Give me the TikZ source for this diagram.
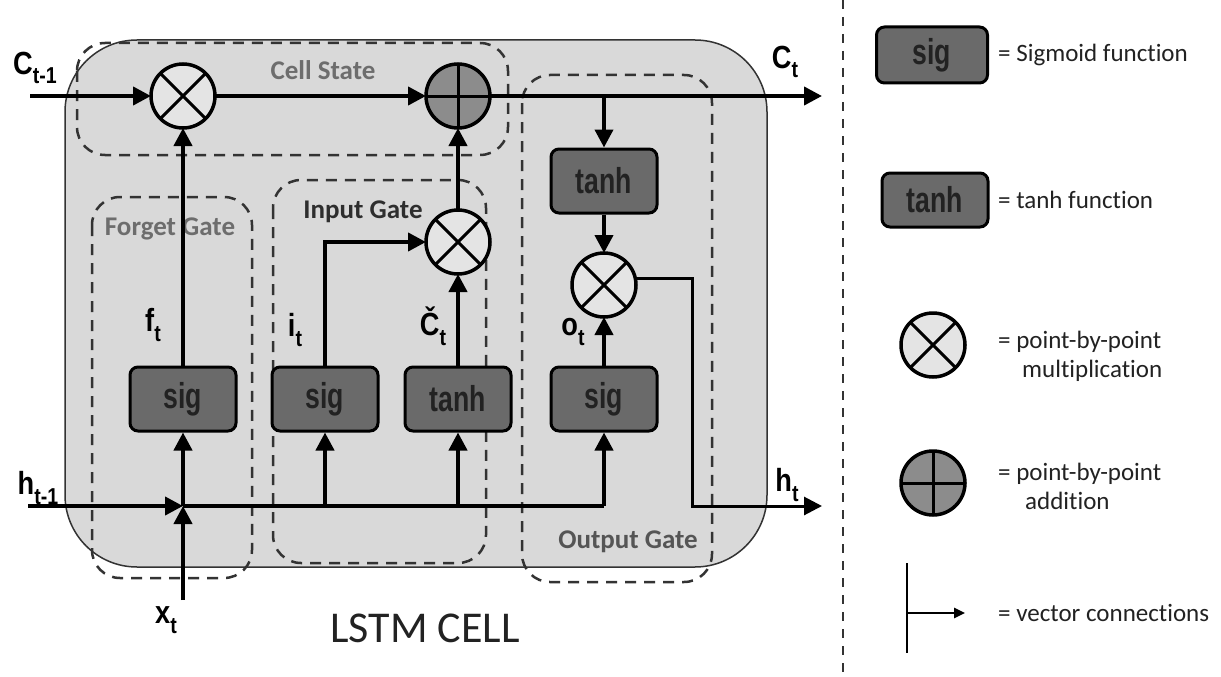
\documentclass[tikz,border=0pt]{standalone}
\usepackage{fontspec}
\setmainfont{Carlito}[Ligatures=CommonOff]
\newfontfamily\labfont{Liberation Sans}[FakeStretch=0.85, UprightFont={* Bold}]
\newfontfamily\boxfont{Liberation Sans}[FakeStretch=0.74, UprightFont={* Bold}]
\usetikzlibrary{arrows.meta}
\definecolor{bgc}{HTML}{D9D9D9}
\definecolor{boxc}{HTML}{6A6A6A}
\definecolor{addc}{HTML}{8C8C8C}
\definecolor{mulc}{HTML}{E4E4E4}
\definecolor{dashc}{HTML}{333333}
\definecolor{lgray}{HTML}{6D6D6D}
\definecolor{mgray}{HTML}{555555}
\definecolor{dgray}{HTML}{2E2E2E}
\definecolor{txt}{HTML}{222222}
\tikzset{
 fbox/.style={draw=black, fill=boxc, rounded corners=8pt, line width=3pt, minimum width=106pt, minimum height=64pt, inner sep=0pt, font=\boxfont\fontsize{36}{36}\selectfont, text=txt},
 mul/.style={circle, draw=black, fill=mulc, line width=3.5pt, minimum size=64pt, inner sep=0pt, outer sep=0pt},
 addn/.style={mul, fill=addc},
 conn/.style={line width=4pt, -{Triangle[length=18pt,width=18pt]}},
 plain/.style={line width=4pt},
 gate/.style={draw=dashc, line width=2.5pt, dash pattern=on 11pt off 8pt, rounded corners=28pt},
 glabel/.style={font=\bfseries\fontsize{27}{27}\selectfont, inner sep=0pt},
 vlab/.style={font=\labfont\fontsize{32}{32}\selectfont, inner sep=0pt},
 legtext/.style={anchor=west, font=\fontsize{25}{29}\selectfont, align=left, inner sep=0pt, text=txt},
}
\newcommand\sbs[1]{\raisebox{-0.3em}{\fontsize{23}{23}\selectfont #1}}
\newcommand\crossx[1]{\draw[line width=3pt] (#1.45)--(#1.225) (#1.135)--(#1.315);}
\newcommand\plusx[1]{\draw[line width=3pt] (#1.north)--(#1.south) (#1.east)--(#1.west);}
\begin{document}
\begin{tikzpicture}[x=1pt,y=-1pt]
\useasboundingbox (0,0) rectangle (1221,677);
\fill[white] (0,0) rectangle (1221,677);
% big cell box
\draw[fill=bgc, draw=dashc, line width=1.5pt, rounded corners=72pt] (65,40) rectangle (767,567);
% dashed gate boxes
\draw[gate] (77,43) rectangle (508,155);
\draw[gate] (92,197) rectangle (252,578);
\draw[gate] (273,180) rectangle (486,563);
\draw[gate] (522,75) rectangle (712,582);
% gate labels
\node[glabel, text=lgray] (lcell) at (323,70) {Cell State};
\node[glabel, text=lgray] (lforget) at (170,229) {Forget Gate};
\node[glabel, text=dgray] (linput) at (363,212) {Input Gate};
\node[glabel, text=mgray] (loutput) at (628,542) {Output Gate};
% coordinates
\coordinate (cin) at (30,96);
\coordinate (cout) at (822,96);
\coordinate (br) at (604,96);
\coordinate (hin) at (28,506);
\coordinate (jx) at (183,506);
\coordinate (hend) at (604,506);
\coordinate (xin) at (183,600);
\coordinate (hturn) at (692,506);
\coordinate (hout) at (822,506);
% nodes
\node[mul] (mf) at (183,96) {};
\node[addn] (add) at (458,96) {};
\node[mul] (mi) at (458,242) {};
\node[mul] (mo) at (604,285) {};
\node[fbox] (sigF) at (183,399) {sig};
\node[fbox] (sigI) at (325,399) {sig};
\node[fbox] (tanhI) at (458,399) {tanh};
\node[fbox] (sigO) at (604,399) {sig};
\node[fbox] (tanhO) at (604,181) {tanh};
\crossx{mf}\crossx{mi}\crossx{mo}\plusx{add}
% cell state
\draw[conn] (cin) -- (mf);
\draw[conn] (mf) -- (add);
\draw[conn] (add) -- (cout);
\draw[conn] (br) -- (tanhO);
\draw[conn] (tanhO) -- (mo);
\draw[conn] (sigO) -- (mo);
\draw[line width=3pt, -{Triangle[length=18pt,width=18pt]}] (mo.12) -| (hturn) -- (hout);
% hidden / input
\draw[conn] (hin) -- (jx);
\draw[plain] (jx) -- (hend);
\draw[conn] (xin) -- (jx);
\draw[conn] (jx) -- (sigF);
\draw[conn] (sigI |- jx) -- (sigI);
\draw[conn] (tanhI |- jx) -- (tanhI);
\draw[conn] (hend) -- (sigO);
\draw[conn] (sigF) -- (mf);
\draw[conn] (sigI) |- (mi);
\draw[conn] (tanhI) -- (mi);
\draw[conn] (mi) -- (add);
% variable labels
\node[vlab] (lc1) at (35,68) {C\sbs{t-1}};
\node[vlab] (lc2) at (785,62) {C\sbs{t}};
\node[vlab] (lh1) at (38,488) {h\sbs{t-1}};
\node[vlab] (lh2) at (787,485) {h\sbs{t}};
\node[vlab] (lx) at (166,620) {x\sbs{t}};
\node[vlab] (lf) at (153,325) {f\sbs{t}};
\node[vlab] (li) at (295,330) {i\sbs{t}};
\node[vlab] (lct) at (433,326) {Č\sbs{t}};
\node[vlab] (lo) at (573,332) {o\sbs{t}};
\node[font=\fontsize{44}{44}\selectfont, text=txt] (title) at (425,628) {LSTM CELL};
% separator
\draw[line width=2.5pt, dash pattern=on 9pt off 8pt, draw=dashc] (843,0) coordinate (s1) -- (843,677) coordinate (s2);
% legend
\node[fbox, minimum width=111pt, minimum height=56pt] (lgsig) at (932,55) {sig};
\node[legtext] (tsig) at (998,55) {= Sigmoid function};
\node[fbox, minimum height=54pt] (lgtanh) at (935,200) {tanh};
\node[legtext] (ttanh) at (998,200) {= tanh function};
\node[mul] (lgmul) at (933,345) {};
\crossx{lgmul}
\node[legtext, anchor=north west] (tmul) at (998,331) {= point-by-point\\\hspace*{24pt}multiplication};
\node[addn] (lgadd) at (933,483) {};
\plusx{lgadd}
\node[legtext, anchor=north west] (tadd) at (998,463) {= point-by-point\\\hspace*{27pt}addition};
\coordinate (v1) at (907,563);
\coordinate (v2) at (907,653);
\coordinate (v3) at (907,613);
\coordinate (v4) at (965,613);
\draw[line width=2.5pt] (v1) -- (v2);
\draw[line width=2.5pt, -{Triangle[length=11pt,width=10pt]}] (v3) -- (v4);
\node[legtext] (tvec) at (998,613) {= vector connections};
\end{tikzpicture}
\end{document}
